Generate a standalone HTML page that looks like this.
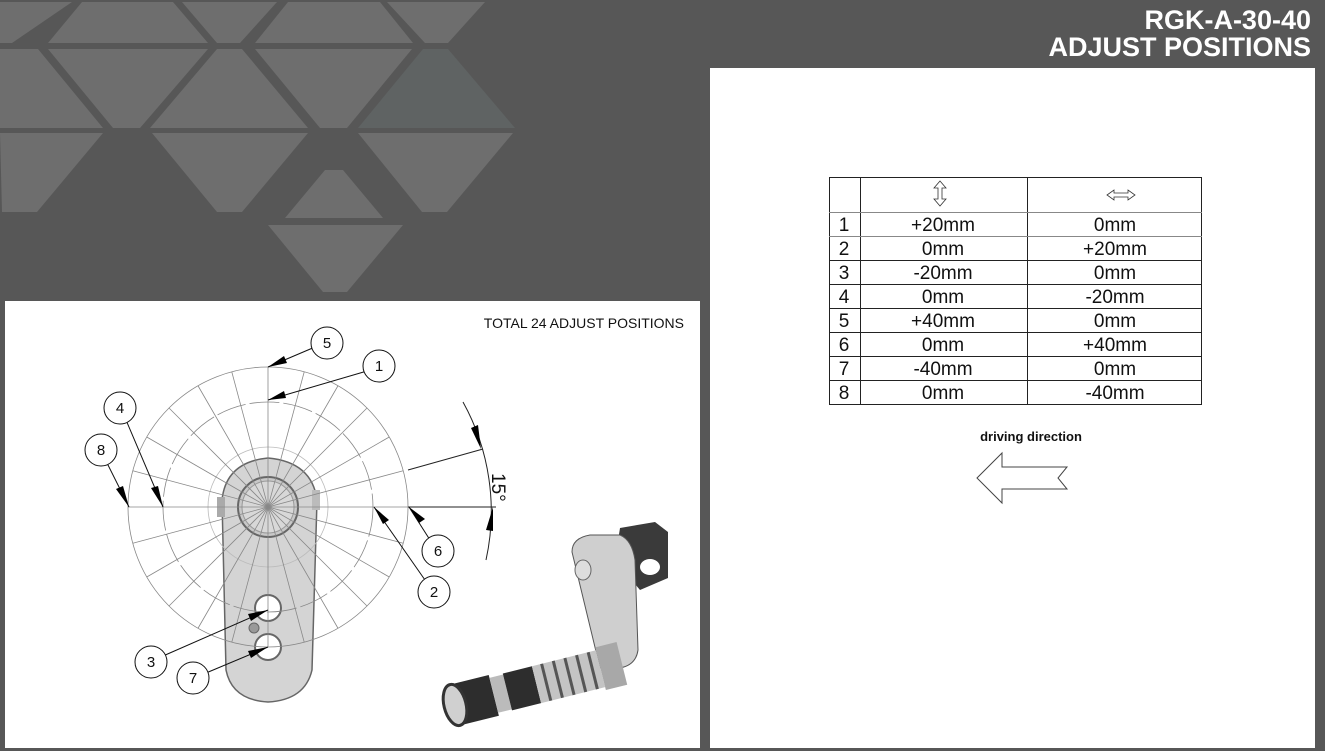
<!DOCTYPE html>
<html><head><meta charset="utf-8"><style>
html,body{margin:0;padding:0;background:#575757;}
body{width:1325px;height:751px;position:relative;overflow:hidden;font-family:"Liberation Sans",sans-serif;}
</style></head><body>
<svg width="1325" height="751" viewBox="0 0 1325 751" xmlns="http://www.w3.org/2000/svg" style="position:absolute;left:0;top:0">
<rect width="1325" height="751" fill="#575757"/>
<g fill="#6e6e6e">
<polygon points="0,2 72,2 12,43 0,43"/>
<polygon points="82,2 173,2 208,43 48,43"/>
<polygon points="182,2 277,2 240,43 217,43"/>
<polygon points="288,2 380,2 413,43 255,43"/>
<polygon points="387,2 485,2 448,43 425,43"/>
<polygon points="0,49 38,49 103,128 0,128"/>
<polygon points="48,49 208,49 140,128 113,128"/>
<polygon points="217,49 242,49 308,128 150,128"/>
<polygon points="255,49 412,49 347,128 320,128"/>
<polygon points="423,49 448,49 515,128 358,128" fill="#5f6363"/>
<polygon points="0,133 103,133 37,212 2,212"/>
<polygon points="152,133 308,133 242,212 217,212"/>
<polygon points="358,133 513,133 447,212 422,212"/>
<polygon points="325,170 343,170 383,218 285,218"/>
<polygon points="268,225 403,225 347,292 323,292"/>
</g>
<text x="1311" y="29" fill="#fff" font-size="27" font-weight="bold" text-anchor="end">RGK-A-30-40</text>
<text x="1311" y="56" fill="#fff" font-size="27" font-weight="bold" text-anchor="end">ADJUST POSITIONS</text>

<rect x="5" y="301" width="695" height="447" fill="#fff"/>
<rect x="710" y="68" width="605" height="680" fill="#fff"/>

<text x="684" y="328" font-size="14" text-anchor="end" fill="#111">TOTAL 24 ADJUST POSITIONS</text>

<path d="M222,500 Q226,462 268,458 Q312,462 317,500 L312,670 Q305,700 268,702 Q232,700 226,670 Z" fill="#d4d4d4" stroke="#666" stroke-width="1.5"/>
<rect x="217" y="497" width="8" height="20" fill="#aaa"/>
<rect x="312" y="490" width="8" height="20" fill="#bbb"/>
<circle cx="268" cy="507" r="30" fill="#c8c8c8" stroke="#666" stroke-width="2"/>
<circle cx="268" cy="507" r="26" fill="#d8d8d8" stroke="#999" stroke-width="1"/>
<circle cx="268" cy="608" r="13" fill="#fff" stroke="#666" stroke-width="2"/>
<circle cx="268" cy="647" r="13" fill="#fff" stroke="#666" stroke-width="2"/>
<circle cx="254" cy="628" r="5" fill="#999" stroke="#666"/>

<g transform="translate(268,507)" stroke="#888" stroke-width="0.8" fill="none">
<circle r="140"/><circle r="105" stroke-dasharray="30 4"/>
<circle r="60" stroke="#bbb"/>
<line x1="-140" y1="0" x2="140" y2="0"/>
<line x1="-140" y1="0" x2="140" y2="0" transform="rotate(15)"/>
<line x1="-140" y1="0" x2="140" y2="0" transform="rotate(30)"/>
<line x1="-140" y1="0" x2="140" y2="0" transform="rotate(45)"/>
<line x1="-140" y1="0" x2="140" y2="0" transform="rotate(60)"/>
<line x1="-140" y1="0" x2="140" y2="0" transform="rotate(75)"/>
<line x1="-140" y1="0" x2="140" y2="0" transform="rotate(90)"/>
<line x1="-140" y1="0" x2="140" y2="0" transform="rotate(105)"/>
<line x1="-140" y1="0" x2="140" y2="0" transform="rotate(120)"/>
<line x1="-140" y1="0" x2="140" y2="0" transform="rotate(135)"/>
<line x1="-140" y1="0" x2="140" y2="0" transform="rotate(150)"/>
<line x1="-140" y1="0" x2="140" y2="0" transform="rotate(165)"/>
</g>
<line x1="408" y1="507" x2="496" y2="507" stroke="#222" stroke-width="1"/>
<line x1="408" y1="470" x2="483" y2="449" stroke="#222" stroke-width="1"/>
<path d="M463,402 A226,226 0 0 1 486,560" fill="none" stroke="#222" stroke-width="1"/>
<polygon points="481,449 471,428 478,425" fill="#000"/>
<polygon points="493,507 486,530 493,531" fill="#000"/>
<text transform="translate(492,473) rotate(90)" font-size="19" fill="#111">15°</text>

<g stroke="#111" stroke-width="1" fill="none">
<line x1="315" y1="347" x2="268" y2="367"/>
<line x1="367" y1="371" x2="268" y2="400"/>
<line x1="126" y1="420" x2="163" y2="507"/>
<line x1="107" y1="463" x2="129" y2="507"/>
<line x1="430" y1="540" x2="409" y2="507"/>
<line x1="425" y1="580" x2="374" y2="507"/>
<line x1="163" y1="656" x2="268" y2="610"/>
<line x1="206" y1="673" x2="268" y2="647"/>
</g>
<g fill="#000">
<polygon points="268,367 284,356 287,363"/>
<polygon points="268,400 284,391 286,398"/>
<polygon points="163,507 151,488 158,486"/>
<polygon points="129,507 116,489 123,486"/>
<polygon points="409,507 425,519 419,523"/>
<polygon points="374,507 389,520 383,524"/>
<polygon points="268,610 248,614 251,621"/>
<polygon points="268,647 248,651 251,658"/>
</g>
<g fill="#fff" stroke="#111" stroke-width="1">
<circle cx="327" cy="343" r="16"/><circle cx="379" cy="366" r="16"/>
<circle cx="120" cy="408" r="16"/><circle cx="101" cy="450" r="16"/>
<circle cx="438" cy="551" r="16"/><circle cx="434" cy="592" r="16"/>
<circle cx="151" cy="662" r="16"/><circle cx="193" cy="678" r="16"/>
</g>
<g font-size="15" text-anchor="middle" fill="#111">
<text x="327" y="348">5</text><text x="379" y="371">1</text>
<text x="120" y="413">4</text><text x="101" y="455">8</text>
<text x="438" y="556">6</text><text x="434" y="597">2</text>
<text x="151" y="667">3</text><text x="193" y="683">7</text>
</g>

<!-- footpeg -->
<polygon points="620,528 655,522 668,532 668,578 640,590 615,560" fill="#3a3a3a"/>
<ellipse cx="650" cy="567" rx="10" ry="8" fill="#fff"/>
<path d="M572,552 Q572,538 590,535 L620,535 Q632,540 635,560 L638,650 Q636,665 620,668 L600,668 Z" fill="#cfcfcf" stroke="#555"/>
<ellipse cx="583" cy="570" rx="8" ry="10" fill="#ddd" stroke="#666"/>
<g transform="translate(455,705) rotate(-14)">
<rect x="0" y="-21" width="40" height="42" fill="#2d2d2d"/>
<rect x="40" y="-18" width="14" height="36" fill="#bbb"/>
<rect x="54" y="-19" width="30" height="38" fill="#2d2d2d"/>
<rect x="84" y="-19" width="66" height="38" fill="#c4c4c4"/>
<g stroke="#555" stroke-width="3"><line x1="94" y1="-19" x2="94" y2="19"/><line x1="106" y1="-19" x2="106" y2="19"/><line x1="118" y1="-19" x2="118" y2="19"/><line x1="130" y1="-19" x2="130" y2="19"/><line x1="142" y1="-19" x2="142" y2="19"/></g>
<rect x="150" y="-22" width="22" height="44" fill="#a8a8a8"/>
<ellipse cx="0" cy="0" rx="11" ry="21" fill="#d0d0d0" stroke="#333" stroke-width="3"/>
</g>

<g stroke="#222" stroke-width="1" fill="none">
<rect x="829.5" y="177.5" width="372" height="227"/>
<line x1="860.5" y1="177" x2="860.5" y2="404"/>
<line x1="1027.5" y1="177" x2="1027.5" y2="404"/>
<line x1="829" y1="212.5" x2="1202" y2="212.5" stroke="#888"/>
<line x1="829" y1="236.5" x2="1202" y2="236.5" stroke="#888"/>
<line x1="829" y1="260.5" x2="1202" y2="260.5"/>
<line x1="829" y1="284.5" x2="1202" y2="284.5"/>
<line x1="829" y1="308.5" x2="1202" y2="308.5"/>
<line x1="829" y1="332.5" x2="1202" y2="332.5"/>
<line x1="829" y1="356.5" x2="1202" y2="356.5"/>
<line x1="829" y1="380.5" x2="1202" y2="380.5"/>
</g>
<path d="M940,181 L946,188 L942,188 L942,199 L946,199 L940,206 L934,199 L938,199 L938,188 L934,188 Z" fill="#fff" stroke="#333" stroke-width="0.8"/>
<path d="M1107,195 L1114,190 L1114,193 L1128,193 L1128,190 L1135,195 L1128,200 L1128,197 L1114,197 L1114,200 Z" fill="#fff" stroke="#333" stroke-width="0.8"/>
<g font-size="19" fill="#111" text-anchor="middle">
<text x="844" y="231">1</text><text x="943" y="231">+20mm</text><text x="1115" y="231">0mm</text>
<text x="844" y="255">2</text><text x="943" y="255">0mm</text><text x="1115" y="255">+20mm</text>
<text x="844" y="279">3</text><text x="943" y="279">-20mm</text><text x="1115" y="279">0mm</text>
<text x="844" y="303">4</text><text x="943" y="303">0mm</text><text x="1115" y="303">-20mm</text>
<text x="844" y="327">5</text><text x="943" y="327">+40mm</text><text x="1115" y="327">0mm</text>
<text x="844" y="351">6</text><text x="943" y="351">0mm</text><text x="1115" y="351">+40mm</text>
<text x="844" y="375">7</text><text x="943" y="375">-40mm</text><text x="1115" y="375">0mm</text>
<text x="844" y="399">8</text><text x="943" y="399">0mm</text><text x="1115" y="399">-40mm</text>
</g>
<text x="1031" y="441" font-size="13" font-weight="bold" text-anchor="middle" fill="#111">driving direction</text>
<path d="M977,478 L1002,453 L1002,467 L1067,467 L1058,478 L1067,489 L1002,489 L1002,503 Z" fill="#fff" stroke="#444" stroke-width="1"/>
</svg>
</body></html>
